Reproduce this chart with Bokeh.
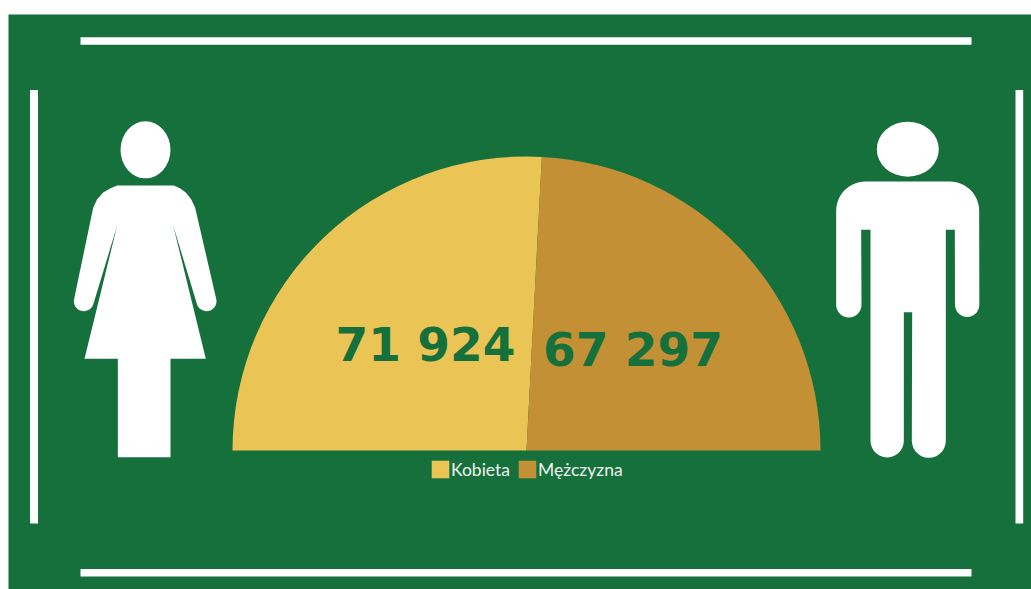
import math
from bokeh.plotting import figure
from bokeh.embed import file_html
from bokeh.resources import INLINE
from bokeh.core.properties import value
from bokeh.models import Range1d, Legend, LegendItem

categories = ["Kobieta", "Mężczyzna"]
counts = [71924, 67297]
count_labels = ["71 924", "67 297"]

GREEN = "#15703c"
COLORS = ["#ebc456", "#c49035"]
LEFT, TOP = 8, 14
PAGE_W, PAGE_H = 1031, 589


def Y(py):
    return PAGE_H - py


p = figure(width=PAGE_W, height=PAGE_H, output_backend="svg", toolbar_location=None,
           x_range=Range1d(LEFT, PAGE_W), y_range=Range1d(0, PAGE_H - TOP),
           min_border=0, min_border_top=TOP, min_border_left=LEFT, min_border_right=0,
           min_border_bottom=0, background_fill_color=GREEN,
           border_fill_color="white", outline_line_color=None)
p.axis.visible = False
p.grid.visible = False

# Frame bars
for x0, x1, y0, y1 in [(80, 971, 36.8, 44.3), (80, 971, 568.5, 576),
                       (29.5, 37.5, 89.5, 523), (1015, 1022.7, 89.5, 523)]:
    p.quad(left=x0, right=x1, top=Y(y0), bottom=Y(y1), fill_color="white", line_color=None)

# Half pie from the values
cx, cy, radius = 526, 450, 294
split = math.pi - math.pi * counts[0] / sum(counts)
w0 = p.wedge(x=cx, y=Y(cy), radius=radius, start_angle=split, end_angle=math.pi,
             fill_color=COLORS[0], line_color=None)
w1 = p.wedge(x=cx, y=Y(cy), radius=radius, start_angle=0, end_angle=split,
             fill_color=COLORS[1], line_color=None)

# Number labels
for label, x, base in zip(count_labels, [335, 542.5], [343.5, 348.5]):
    p.text(x=[x], y=[Y(base)], text=[label], text_color=GREEN, text_font=value("DejaVu Sans"),
           text_font_style="bold", text_font_size="47px", text_align="left",
           text_baseline="alphabetic")

legend = Legend(items=[LegendItem(label=c, renderers=[r]) for c, r in zip(categories, [w0, w1])],
                orientation="horizontal", location=(421, 109), background_fill_alpha=0,
                border_line_color=None, padding=0, margin=0, spacing=6,
                glyph_width=22, glyph_height=22, label_standoff=0,
                label_text_font="Lato", label_text_font_size="17.5px",
                label_text_color="#eef4ee")
p.add_layout(legend, "center")


# Silhouettes, outlined from the picture
def arc(x, y, r, a0, a1, n=14):
    """Points of a circular arc; angles in degrees, y pointing down."""
    return [(x + r * math.cos(math.radians(a0 + (a1 - a0) * i / n)),
             y + r * math.sin(math.radians(a0 + (a1 - a0) * i / n))) for i in range(n + 1)]


def fz(pts):
    return [60 + a / 3 for a, b in pts], [Y(100 + b / 3) for a, b in pts]


def mz(pts):
    return [820 + a / 3 for a, b in pts], [Y(100 + b / 3) for a, b in pts]


woman = ([(170, 255), (340, 255), (358, 263), (376, 276), (392, 296), (404, 322), (466, 590)]
         + arc(438, 602, 30, -5, 165)
         + [(338, 375), (436, 775), (330, 775), (330, 1070), (172, 1070), (172, 775), (72, 775),
            (170, 375)]
         + arc(70, 602, 30, 15, 185)
         + [(98, 322), (110, 296), (128, 276), (150, 263)])
man = (arc(388, 331, 88, -90, 0)
       + arc(440, 613, 36.5, 0, 180)
       + [(403, 388), (376, 388)]
       + arc(325, 1021, 51, 0, 180)
       + [(275, 635), (250, 635)]
       + arc(200, 1021, 50, 0, 180)
       + [(150, 388), (122, 388)]
       + arc(85, 613, 38, 0, 180)
       + arc(135, 331, 88, 180, 270))
for xs, ys in [fz(woman), mz(man)]:
    p.patch(xs, ys, fill_color="white", line_color=None)

p.ellipse(x=145, y=Y(149.3), width=50, height=57, fill_color="white", line_color=None)
p.ellipse(x=907.3, y=Y(148.7), width=62, height=55, fill_color="white", line_color=None)

open("out.html", "w").write(file_html(p, INLINE))
